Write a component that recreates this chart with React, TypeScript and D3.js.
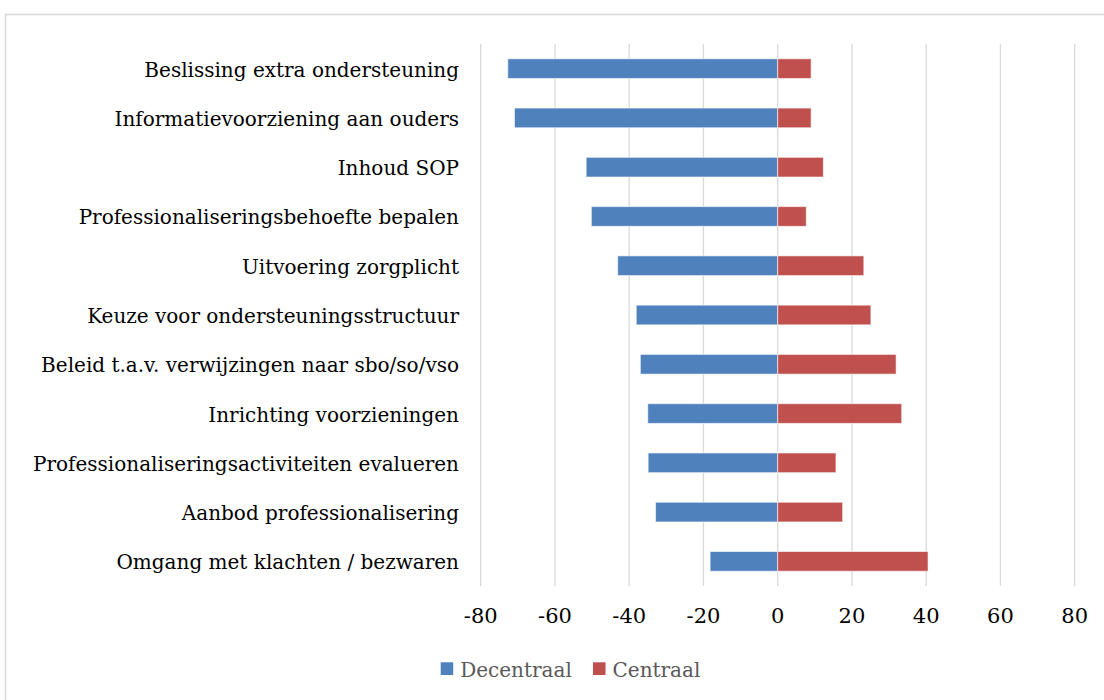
import React from "react";
import * as d3 from "d3";

const categories = [
  "Beslissing extra ondersteuning",
  "Informatievoorziening aan ouders",
  "Inhoud SOP",
  "Professionaliseringsbehoefte bepalen",
  "Uitvoering zorgplicht",
  "Keuze voor ondersteuningsstructuur",
  "Beleid t.a.v. verwijzingen naar sbo/so/vso",
  "Inrichting voorzieningen",
  "Professionaliseringsactiviteiten evalueren",
  "Aanbod professionalisering ",
  "Omgang met klachten / bezwaren",
];
const decentraal = [-72.7, -70.9, -51.6, -50.2, -43.1, -38.1, -37.0, -35.0, -34.9, -32.9, -18.2];
const centraal = [9.0, 9.0, 12.3, 7.7, 23.2, 25.1, 31.9, 33.4, 15.7, 17.5, 40.5];
const ticks = [-80, -60, -40, -20, 0, 20, 40, 60, 80];
const seriesNames = ["Decentraal", "Centraal"];
const colors = ["#4f81bd", "#c0504d"];

const W = 1104;
const H = 700;
const FONT = "'DejaVu Serif', serif";

export default function App() {
  const x = d3.scaleLinear().domain([-80, 80]).range([480.7, 1074.7]);
  const y = d3.scaleBand<string>().domain(categories).range([44, 586]).paddingInner(0.6).paddingOuter(0.3);
  const bw = y.bandwidth();
  const legendX = [440.7, 593];
  return (
    <div style={{ position: "absolute", left: 0, top: 0 }}>
      <svg width={W} height={H} style={{ display: "block", background: "#fff" }}>
        <rect x={5.5} y={14.5} width={1120} height={720} fill="#fff" stroke="#d9d9d9" strokeWidth={1.5} />
        {ticks.map((t) => (
          <line key={t} x1={x(t)} x2={x(t)} y1={44} y2={586} stroke="#d9d9d9" strokeWidth={1.3} />
        ))}
        {categories.map((c, i) => (
          <g key={c}>
            <rect
              x={x(decentraal[i])}
              y={y(c)!}
              width={x(0) - x(decentraal[i])}
              height={bw}
              fill={colors[0]}
              stroke="#fff"
              strokeOpacity={0.6}
              strokeWidth={1}
            />
            <rect
              x={x(0)}
              y={y(c)!}
              width={x(centraal[i]) - x(0)}
              height={bw}
              fill={colors[1]}
              stroke="#fff"
              strokeOpacity={0.6}
              strokeWidth={1}
            />
            <text
              x={459}
              y={y(c)! + bw / 2 + 8}
              textAnchor="end"
              fontFamily={FONT}
              fontSize={20}
              fill="#000"
            >
              {c}
            </text>
          </g>
        ))}
        {ticks.map((t) => (
          <text key={"t" + t} x={x(t)} y={622.5} textAnchor="middle" fontFamily={FONT} fontSize={21} fill="#000">
            {t}
          </text>
        ))}
        {seriesNames.map((s, i) => {
          const lx = legendX[i];
          return (
            <g key={s}>
              <rect x={lx} y={662.3} width={12.5} height={12.7} fill={colors[i]} />
              <text x={lx + 19.5} y={676.5} fontFamily={FONT} fontSize={20} fill="#595959">
                {s}
              </text>
            </g>
          );
        })}
      </svg>
    </div>
  );
}
